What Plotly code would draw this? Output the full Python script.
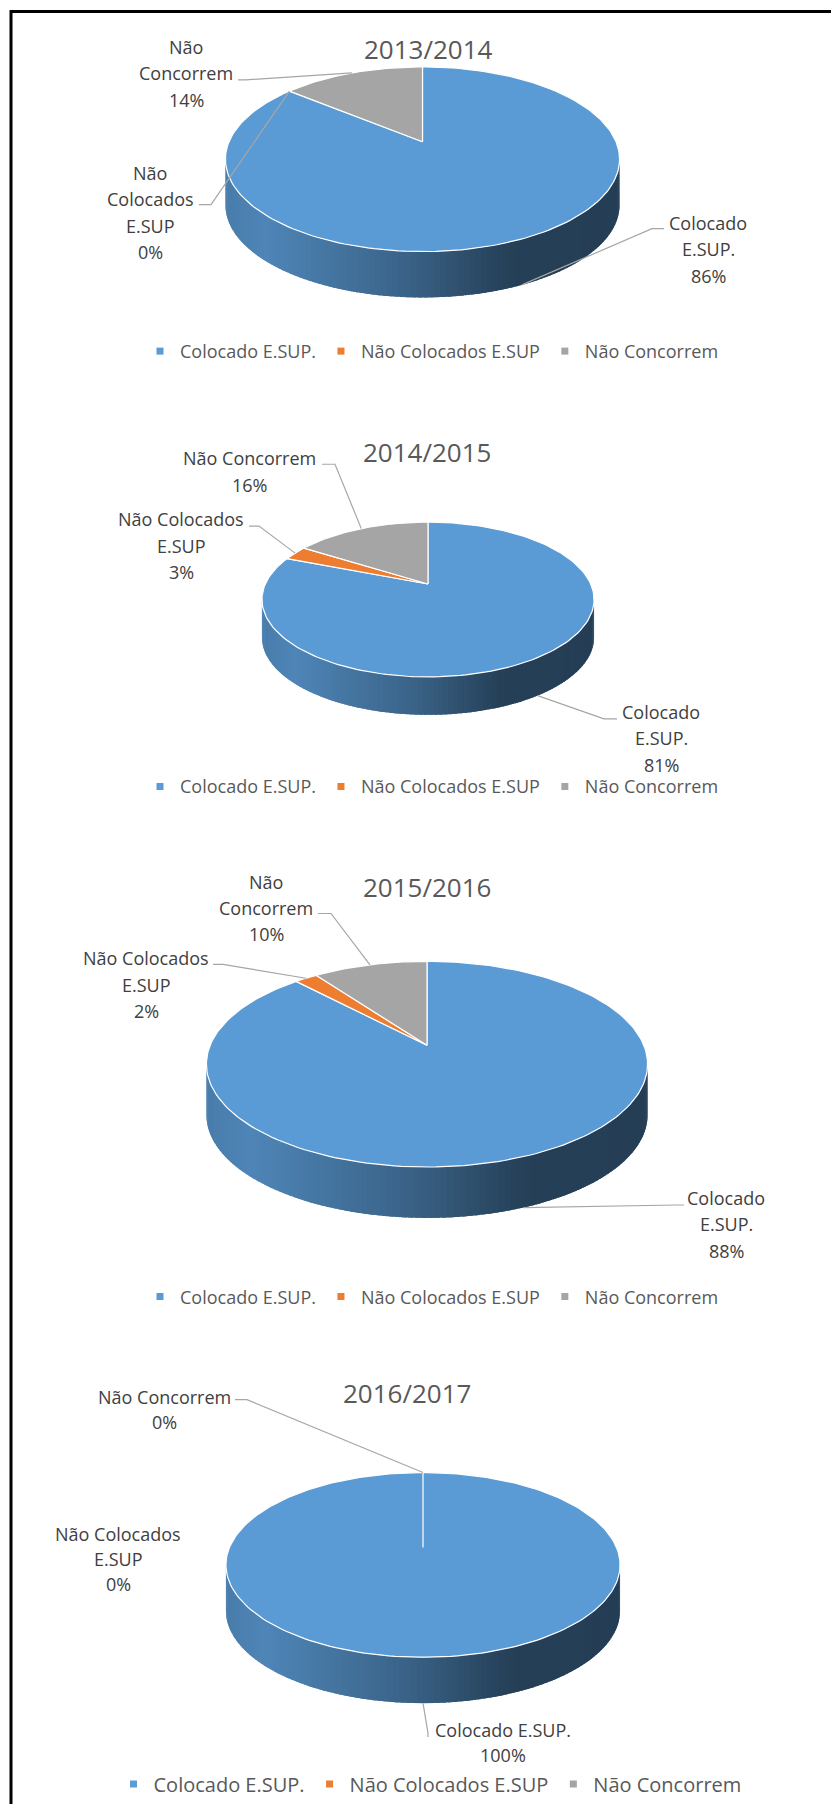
import numpy as np
import plotly.graph_objects as go

# ---------------- data ----------------
categories = ["Colocado E.SUP.", "Não Colocados E.SUP", "Não Concorrem"]
years = ["2013/2014", "2014/2015", "2015/2016", "2016/2017"]
pct_2013_2014 = [86, 0, 14]
pct_2014_2015 = [81, 3, 16]
pct_2015_2016 = [88, 2, 10]
pct_2016_2017 = [100, 0, 0]
series = [pct_2013_2014, pct_2014_2015, pct_2015_2016, pct_2016_2017]
colors = ["#5B9BD5", "#ED7D31", "#A5A5A5"]

# ---------------- layout (pixel space of the page) ----------------
W, H = 831, 1804
FONT = "Open Sans, Noto Sans, sans-serif"
LINE_H = 26.5

PIES = [
    dict(cx=422.5, cy=142, a=193.5, b=89.2, k=0.189, h=46, title=(428, 49),
         legend=dict(x=432, y=352, size=18), lh=LINE_H,
         labels=[dict(x=708, y=223, wrap=[1, 1], lead=[(664, 229), (652, 229)]),
                 dict(x=150, y=173, wrap=[1, 1, 1], lead=[(199, 205), (211, 205)]),
                 dict(x=186, y=47, wrap=[1, 1], lead=[(238, 80), (246, 80)])]),
    dict(cx=428, cy=585, a=162.7, b=74.4, k=0.2, h=38, title=(427, 453),
         legend=dict(x=432, y=788, size=18), lh=LINE_H,
         labels=[dict(x=661, y=713, wrap=[1, 1], lead=[(617, 720), (604, 720)]),
                 dict(x=181, y=520, wrap=[2, 1], lead=[(249, 527), (259, 527)]),
                 dict(x=249, y=459, wrap=[2], lead=[(322, 465), (335, 465)])]),
    dict(cx=427, cy=1047, a=216.8, b=99.5, k=0.184, h=51, title=(427, 888),
         legend=dict(x=432, y=1299, size=18), lh=LINE_H,
         labels=[dict(x=726, y=1200, wrap=[1, 1], lead=[(684, 1207), (676, 1207)]),
                 dict(x=146, y=960, wrap=[2, 1], lead=[(213, 966), (223, 966)]),
                 dict(x=266, y=883, wrap=[1, 1], lead=[(318, 915), (331, 915)])]),
    dict(cx=423, cy=1550, a=193.5, b=89.2, k=0.189, h=46, title=(407, 1395),
         legend=dict(x=430, y=1787, size=20), lh=25,
         labels=[dict(x=503, y=1733, wrap=[2], lead=[(428, 1740), (428, 1736)]),
                 dict(x=118, y=1537, wrap=[2, 1], lead=None),
                 dict(x=164, y=1399, wrap=[2], lead=[(235, 1402), (247, 1402)])]),
]

# shading of the side wall, left (t=0) to right (t=1)
SHADE_T = [0.0, 0.10, 0.45, 0.72, 1.0]
SHADE_F = [0.80, 0.86, 0.64, 0.41, 0.40]


def proj(p, phi):
    phi = np.asarray(phi, dtype=float)
    u, v = np.sin(phi), np.cos(phi)
    d = 1 + p["k"] * v
    return p["cx"] + p["a"] * u / d, p["cy"] - p["b"] * v / d


def hex2rgb(c):
    c = c.lstrip("#")
    return [int(c[i:i + 2], 16) for i in (0, 2, 4)]


fig = go.Figure()
annotations = []

for ci, (p, vals) in enumerate(zip(PIES, series)):
    total = float(sum(vals))
    fr = np.array(vals) / total
    edges = np.concatenate([[0], np.cumsum(fr)]) * 2 * np.pi

    def slice_at(phi):
        for i in range(len(vals)):
            if edges[i] <= phi < edges[i + 1] and vals[i] > 0:
                return i
        return 0

    # ---- side (visible front wall) with horizontal shading ----
    phr = np.arccos(-p["k"])
    n = 110
    phis = np.linspace(phr, 2 * np.pi - phr, n + 1)
    step = phis[1] - phis[0]
    xr = p["a"] / np.sqrt(1 - p["k"] ** 2)
    xl_, xr_ = p["cx"] - xr, p["cx"] + xr
    for j in range(n):
        lo = phis[j]
        hi = min(phis[j + 1] + 0.8 * step, phis[-1])
        ph = np.linspace(lo, hi, 4)
        xs, ys = proj(p, ph)
        px = list(xs) + list(xs[::-1])
        py = list(ys) + list((ys + p["h"])[::-1])
        xm = proj(p, 0.5 * (phis[j] + phis[j + 1]))[0]
        t = (xm - xl_) / (xr_ - xl_)
        f = np.interp(t, SHADE_T, SHADE_F)
        base = hex2rgb(colors[slice_at(0.5 * (phis[j] + phis[j + 1]))])
        col = "rgb(%d,%d,%d)" % tuple(int(round(c * f)) for c in base)
        fig.add_trace(go.Scatter(x=px, y=py, mode="lines", fill="toself",
                                 fillcolor=col, line=dict(width=0),
                                 hoverinfo="skip", showlegend=False))

    # ---- top face slices ----
    for i, v in enumerate(vals):
        if v <= 0:
            continue
        ph = np.linspace(edges[i], edges[i + 1], max(3, int(240 * fr[i])))
        xs, ys = proj(p, ph)
        px = [p["cx"]] + list(xs) + [p["cx"]]
        py = [p["cy"]] + list(ys) + [p["cy"]]
        fig.add_trace(go.Scatter(x=px, y=py, mode="lines", fill="toself",
                                 fillcolor=colors[i],
                                 line=dict(color="white", width=1.2),
                                 hoverinfo="skip", showlegend=False))

    # ---- data labels with leader lines ----
    for i, lab in enumerate(p["labels"]):
        words = categories[i].split(" ")
        lines, w0 = [], 0
        for nw in lab["wrap"]:
            lines.append(" ".join(words[w0:w0 + nw]))
            w0 += nw
        lines.append("%d%%" % vals[i])
        for li, txt in enumerate(lines):
            annotations.append(dict(x=lab["x"], y=lab["y"] + li * p["lh"], xref="x", yref="y",
                                    text=txt, showarrow=False, xanchor="center", yanchor="middle",
                                    font=dict(family=FONT, size=18, color="#404040")))
        if lab["lead"] is not None:
            mid = 0.5 * (edges[i] + edges[i + 1])
            ex, ey = proj(p, mid)
            if np.cos(mid) < 0:
                ey = ey + p["h"]
            (sx, sy), (kx, ky) = lab["lead"]
            fig.add_trace(go.Scatter(x=[sx, kx, float(ex)], y=[sy, ky, float(ey)], mode="lines",
                                     line=dict(color="#A6A6A6", width=1.2),
                                     hoverinfo="skip", showlegend=False))

    # ---- title ----
    annotations.append(dict(x=p["title"][0], y=p["title"][1], xref="x", yref="y",
                            text=years[ci], showarrow=False, xanchor="center", yanchor="middle",
                            font=dict(family=FONT, size=26, color="#595959")))

    # ---- legend entries ----
    lname = "legend" if ci == 0 else "legend%d" % (ci + 1)
    for i, cat in enumerate(categories):
        fig.add_trace(go.Scatter(x=[None], y=[None], mode="markers", name=cat,
                                 marker=dict(symbol="square", size=7, color=colors[i]),
                                 legend=lname, showlegend=True))

legends = {}
for ci, p in enumerate(PIES):
    lname = "legend" if ci == 0 else "legend%d" % (ci + 1)
    legends[lname] = dict(orientation="h", x=p["legend"]["x"] / W, y=1 - p["legend"]["y"] / H,
                          xanchor="center", yanchor="middle", bgcolor="rgba(0,0,0,0)",
                          font=dict(family=FONT, size=p["legend"]["size"], color="#595959"),
                          itemclick=False, itemdoubleclick=False)

fig.update_layout(
    width=W, height=H, margin=dict(l=0, r=0, t=0, b=0, pad=0),
    paper_bgcolor="white", plot_bgcolor="white",
    xaxis=dict(range=[0, W], visible=False, fixedrange=True),
    yaxis=dict(range=[H, 0], visible=False, fixedrange=True),
    annotations=annotations,
    shapes=[dict(type="rect", xref="paper", yref="paper", x0=11 / W, x1=1.02,
                 y0=1 - 11.5 / H, y1=-0.02, line=dict(color="black", width=3),
                 fillcolor="rgba(0,0,0,0)", layer="above")],
    **legends,
)

fig.write_html("out.html", config={"displayModeBar": False},
               post_script="document.body.style.margin='0';document.body.style.overflow='hidden';")
